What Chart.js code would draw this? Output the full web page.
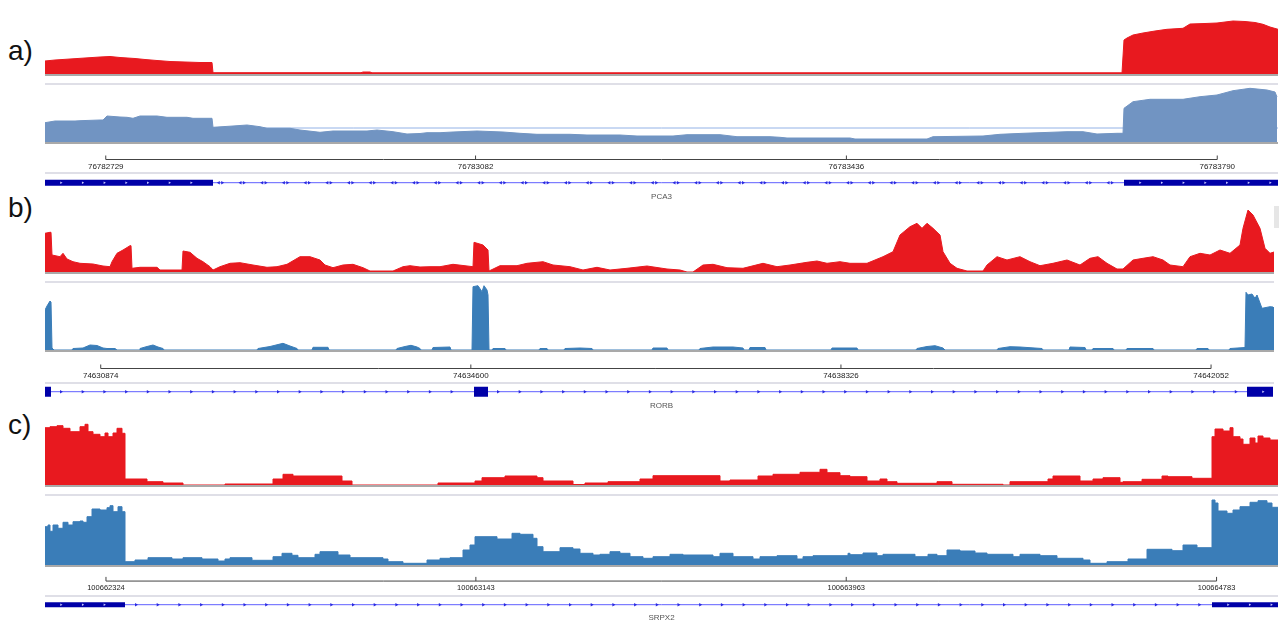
<!DOCTYPE html>
<html>
<head>
<meta charset="utf-8">
<title>Coverage tracks</title>
<script src="https://cdn.jsdelivr.net/npm/chart.js"></script>
<style>
  body { margin: 0; width: 1279px; height: 624px; overflow: hidden; position: relative; background: #fff;
         font-family: 'Liberation Sans', Arial, sans-serif; }
  canvas, .sep, .base, .lbl, .scroll { position: absolute; }
  .lbl { left: 8px; font-size: 28px; line-height: 28px; color: #111; }
  .sep { left: 45px; height: 2px; background: #dfdfe7; }
  .base { left: 45px; height: 2px; background: #a9a9a9; }
  .scroll { left: 1274px; top: 206px; width: 5px; height: 22px; background: #e6e6e6; }
</style>
</head>
<body>
<div class="lbl" style="top:37px">a)</div>
<div class="lbl" style="top:194px">b)</div>
<div class="lbl" style="top:411px">c)</div>
<div class="scroll"></div>
<script>
'use strict';

// #region ***  Data                                     ***********
// coverage: [bin, depth] ; 1233 bins across the view
const nBins = 1233;

// a) PCA3
const aLocus = [76782671, 76783848];
const aRulerTicks = [76782729, 76783082, 76783436, 76783790];
const aExons = [[0, 168], [1079, 1233]];
const aGene = 'PCA3';
const aRed = [[0, 13], [10, 14], [25, 15], [40, 16], [55, 17], [65, 17.5], [75, 16.5], [90, 15.5], [100, 14.5],
  [112, 13.5], [125, 12.5], [140, 12], [155, 11.5], [167, 11.5], [168, 1.3], [316, 1.3], [318, 2], [325, 2],
  [327, 1.2], [1077, 1.2], [1079, 34], [1082, 36], [1088, 39], [1098, 41], [1110, 43], [1122, 44.7], [1138, 45.7],
  [1145, 50], [1160, 50.5], [1172, 51], [1188, 53], [1200, 52.5], [1210, 51.5], [1218, 49.7], [1225, 47], [1233, 44.7]];
const aBlue = [[0, 19.3], [10, 21], [30, 21], [35, 21.3], [55, 22], [58, 22], [62, 26], [75, 25], [82, 24.7],
  [88, 23.7], [95, 26], [112, 26], [122, 24.7], [142, 24.7], [148, 23.7], [167, 23.7], [168, 14.7], [188, 16],
  [202, 17], [215, 15.3], [222, 13.7], [245, 13.7], [255, 12], [275, 9.7], [288, 11], [322, 11], [332, 12],
  [348, 10.3], [362, 8], [375, 8.5], [382, 9.3], [395, 9.3], [408, 10], [432, 11], [458, 10], [475, 8.7],
  [492, 7.7], [525, 7.7], [542, 7], [575, 7], [592, 6], [628, 6], [642, 7.3], [675, 7.3], [692, 5.3], [725, 5.3],
  [735, 4.7], [742, 4], [805, 4], [810, 3], [882, 3], [888, 5.3], [938, 6], [955, 7.7], [978, 8.7], [1000, 9.5],
  [1022, 10.3], [1038, 10.3], [1052, 8], [1072, 8.7], [1078, 8.7], [1079, 33.7], [1088, 40.3], [1105, 42.7],
  [1138, 42.7], [1155, 45.3], [1172, 47], [1188, 51.3], [1205, 53.7], [1222, 52], [1230, 50], [1232, 45]];
const aBlueRef = 14;

// b) RORB
const bLocus = [74630313, 74642726];
const bRulerTicks = [74630874, 74634600, 74638326, 74642052];
const bExons = [[0, 6], [429, 443], [1202, 1228]];
const bGene = 'RORB';
const bRed = [[0, 38.7], [5, 39.7], [6, 39.7], [7, 17], [15, 15.3], [18, 18.7], [22, 13], [28, 10.3], [35, 8.7],
  [48, 8], [58, 6], [65, 5.3], [67, 10.3], [72, 18.7], [78, 22], [85, 26.3], [86, 26.3], [87, 3.7], [95, 4.7],
  [112, 4.7], [115, 2], [137, 2], [138, 21], [145, 19.7], [152, 13.7], [158, 10.3], [165, 5.3], [168, 2],
  [175, 5.3], [185, 8.7], [195, 9.3], [208, 7], [222, 4.7], [232, 5.3], [242, 7.7], [255, 15.3], [265, 15.3],
  [275, 12], [280, 7], [288, 4.3], [298, 7], [308, 7.7], [318, 4.3], [325, 1], [348, 1], [358, 5.3], [365, 6.3],
  [375, 5], [385, 5.3], [395, 5.3], [408, 7.7], [428, 5.3], [429, 29.7], [438, 27], [443, 22], [444, 1],
  [455, 6.3], [472, 6.3], [482, 8.7], [498, 10.3], [508, 7], [525, 5.3], [538, 2], [552, 4.7], [565, 2],
  [582, 3.7], [602, 6], [622, 3], [635, 2], [642, 0], [648, 0], [658, 7], [668, 7.7], [682, 4.3], [698, 3.7],
  [718, 8.7], [732, 5.3], [745, 7], [762, 9.7], [772, 11], [782, 8.7], [795, 10.3], [805, 8.7], [822, 8.7],
  [838, 15.3], [848, 20.3], [855, 37], [865, 45.3], [872, 48.7], [877, 43.7], [882, 48.7], [888, 43.7],
  [895, 37], [898, 20.3], [905, 8.7], [912, 3.7], [922, 1], [938, 1], [942, 7], [952, 15.3], [962, 12],
  [975, 15.3], [985, 10.3], [995, 6.3], [1008, 8.7], [1022, 12], [1035, 7], [1045, 13.7], [1053, 15.3],
  [1062, 8.7], [1072, 3], [1078, 3], [1088, 12], [1098, 13.7], [1108, 15.3], [1118, 12], [1125, 7], [1138, 5.3],
  [1145, 15.3], [1155, 18.7], [1165, 17], [1175, 22], [1185, 18.7], [1195, 27], [1198, 43.7], [1203, 62],
  [1208, 57], [1215, 43.7], [1220, 23.7], [1225, 18.7], [1229, 20]];
const bBlue = [[0, 40], [2, 44], [5, 49], [6, 48], [7, 2], [9, 0], [27, 0], [28, 1.5], [38, 2], [45, 5], [52, 4.5],
  [58, 2], [62, 1.5], [70, 1.5], [72, 0], [94, 0], [95, 1.5], [102, 3.5], [108, 5], [113, 3], [118, 1.5], [119, 0],
  [212, 0], [213, 1.5], [225, 3.5], [238, 6.7], [245, 4], [252, 1.5], [253, 0], [267, 0], [268, 2.7], [283, 2.7],
  [284, 0], [351, 0], [352, 1.5], [360, 3.5], [366, 4.7], [372, 3], [375, 1.5], [376, 0], [387, 0], [388, 2.5],
  [405, 3], [406, 0], [427, 0], [428, 63.3], [433, 64.3], [437, 58.3], [439, 64.3], [442, 60], [443, 55], [444, 0],
  [447, 0], [448, 1.5], [460, 1.5], [461, 0], [494, 0], [495, 1.5], [502, 1.5], [503, 0], [519, 0], [520, 1.5],
  [535, 2], [547, 1.5], [548, 0], [607, 0], [608, 2], [622, 2], [623, 0], [654, 0], [655, 1.5], [668, 3], [688, 3],
  [698, 2], [699, 0], [704, 0], [705, 2.5], [720, 2.5], [721, 0], [786, 0], [787, 2], [812, 2], [813, 0], [871, 0],
  [872, 1.5], [882, 3.5], [890, 4.3], [898, 2], [900, 0], [952, 0], [953, 1.5], [965, 3.3], [975, 3], [997, 1.5],
  [998, 0], [1024, 0], [1025, 3], [1040, 2.5], [1041, 0], [1047, 0], [1048, 1.5], [1068, 1.5], [1069, 0],
  [1081, 0], [1082, 1.5], [1108, 1.5], [1109, 0], [1151, 0], [1152, 1.5], [1163, 1.5], [1164, 0], [1184, 0],
  [1185, 1.5], [1200, 2.5], [1201, 57.7], [1203, 55], [1207, 56], [1210, 51.7], [1212, 55], [1217, 41.7],
  [1225, 43.3], [1228, 43], [1228.5, 0]];

// c) SRPX2 (stepped: depth holds until the next bin)
const cLocus = [100662189, 100664919];
const cRulerTicks = [100662324, 100663143, 100663963, 100664783];
const cExons = [[0, 80], [1167, 1233]];
const cGene = 'SRPX2';
const cRed = [[0, 57.3], [5, 58.3], [12, 59.3], [18, 56.7], [25, 53.3], [35, 58.3], [40, 60.7], [43, 53.3],
  [48, 50.7], [55, 48.3], [60, 52], [63, 48.3], [68, 52], [72, 56.7], [77, 51.7], [80, 6], [102, 3.3], [118, 2],
  [138, 0], [180, 1], [228, 6], [238, 10.7], [248, 9], [297, 4], [307, 0], [393, 2], [430, 4], [437, 7.3],
  [460, 9], [492, 7.3], [498, 4], [528, 0.5], [540, 2], [563, 3.3], [595, 6], [608, 9.3], [675, 4], [685, 5],
  [713, 9], [728, 10.7], [755, 12.7], [775, 15.7], [782, 12.3], [795, 9.3], [805, 8.3], [822, 4], [835, 6],
  [842, 3.3], [852, 1.7], [892, 3.3], [907, 0.7], [958, 0], [965, 3.3], [1003, 6], [1008, 9], [1035, 4],
  [1048, 6], [1058, 7.3], [1075, 2.7], [1078, 3.3], [1097, 5.7], [1117, 9], [1123, 8.3], [1147, 6.7],
  [1167, 48.3], [1170, 56], [1178, 54], [1185, 57.3], [1188, 48.3], [1195, 46], [1198, 40.7], [1205, 47],
  [1210, 42], [1213, 49], [1218, 47], [1225, 45], [1233, 45]];
const cBlue = [[0, 38.3], [3, 40], [5, 33.7], [8, 40], [13, 36.7], [18, 42.7], [23, 40], [28, 43.3], [35, 44],
  [38, 42.7], [42, 48.3], [47, 56], [55, 55], [62, 57.3], [65, 59.3], [68, 53.3], [73, 58.3], [77, 53.3],
  [80, 3.3], [90, 5], [103, 7.3], [127, 6], [138, 7.3], [157, 6], [173, 4], [180, 6], [185, 7.3], [207, 4.7],
  [228, 8.3], [237, 11.7], [247, 9.7], [253, 7.3], [270, 10.7], [275, 13.3], [293, 10], [305, 7.3], [338, 6],
  [343, 3.3], [358, 1.7], [382, 5], [395, 6.7], [405, 7.3], [418, 15], [425, 20], [430, 28.3], [452, 26],
  [467, 31.7], [475, 30.7], [488, 26.7], [492, 18.3], [498, 13.3], [515, 17.3], [528, 16], [535, 11.7],
  [548, 10], [555, 10.7], [565, 13.3], [575, 11.7], [585, 8.3], [598, 6.7], [608, 8.3], [625, 10.7], [638, 10],
  [668, 8.3], [675, 11.7], [688, 8.3], [708, 6], [715, 8.3], [732, 9.3], [752, 6], [758, 8.3], [768, 9.3],
  [803, 11.7], [805, 10.3], [818, 12], [832, 9.3], [838, 10.7], [870, 8.3], [883, 10.7], [892, 9.3], [902, 15],
  [915, 14], [930, 12], [942, 10.7], [968, 8.3], [975, 10.7], [995, 9.3], [1012, 6.7], [1038, 5], [1045, 1.7],
  [1062, 3.3], [1083, 6], [1102, 15.7], [1127, 14.3], [1138, 20], [1152, 17.3], [1167, 65], [1170, 62],
  [1173, 54], [1182, 51.7], [1188, 55], [1195, 58.3], [1205, 62.7], [1213, 64.3], [1222, 62], [1227, 57.7],
  [1233, 57.7]];
// #endregion

// #region ***  Layout / style                           ***********
const trackLeft = 45;
const markStep = 21.7;
const red = '#e8191f';
const blueLight = '#7194c2';
const blue = '#3a7db8';
const exonColour = '#0000a8';
const intronColour = '#5f5fff';
// #endregion

// #region ***  Helpers                                  ***********
const addCanvas = function (left, top, width, height) {
  const c = document.createElement('canvas');
  c.width = width;
  c.height = height;
  c.style.left = left + 'px';
  c.style.top = top + 'px';
  c.style.width = width + 'px';
  c.style.height = height + 'px';
  document.body.appendChild(c);
  return c;
};

const addDiv = function (cls, top, width) {
  const d = document.createElement('div');
  d.className = cls;
  d.style.top = top + 'px';
  d.style.width = width + 'px';
  document.body.appendChild(d);
};

const baseOptions = function () {
  return {
    animation: false,
    responsive: false,
    devicePixelRatio: 1,
    events: [],
    layout: { padding: 0, autoPadding: false },
    plugins: { legend: { display: false }, tooltip: { enabled: false } }
  };
};

const toPoints = (pairs) => pairs.map((p) => ({ x: p[0], y: p[1] }));
// #endregion

// #region ***  Charts                                   ***********
const showCoverage = function (top, range, pairs, colour, stepped, refLevel) {
  const canvas = addCanvas(trackLeft, top, nBins, range);
  const datasets = [{
    data: toPoints(pairs),
    backgroundColor: colour,
    borderColor: colour,
    borderWidth: 1,
    borderJoinStyle: 'bevel',
    fill: 'origin',
    pointRadius: 0,
    stepped: stepped
  }];
  if (refLevel !== undefined) {
    datasets.push({
      data: [{ x: 0, y: refLevel }, { x: nBins, y: refLevel }],
      borderColor: '#93b2e6', borderWidth: 1, pointRadius: 0, fill: false
    });
  }
  const options = baseOptions();
  options.scales = {
    x: { type: 'linear', display: false, min: 0, max: nBins },
    y: { display: false, min: 0, max: range }
  };
  new Chart(canvas, { type: 'line', data: { datasets }, options });
};

// ruler: 26px canvas, 13px axis box under a 13px plot strip (line sits 0.5px above its bottom)
const showRuler = function (top, locus, ticks, fontSize) {
  const canvas = addCanvas(trackLeft, top, nBins, 26);
  const stroke = { borderColor: '#444', borderWidth: 1, pointRadius: 0, fill: false, clip: false };
  const datasets = [{ ...stroke, data: [{ x: ticks[0], y: 0 }, { x: ticks[ticks.length - 1], y: 0 }] }];
  ticks.forEach((t) => datasets.push({ ...stroke, data: [{ x: t, y: 0 }, { x: t, y: 4 }] }));
  const options = baseOptions();
  options.scales = {
    x: {
      type: 'linear', min: locus[0], max: locus[1],
      afterBuildTicks: (scale) => { scale.ticks = ticks.map((v) => ({ value: v })); },
      grid: { display: false, drawTicks: false },
      border: { display: false },
      ticks: {
        padding: 1.7, color: '#222', maxRotation: 0, autoSkip: false,
        font: { family: 'Liberation Sans', size: fontSize },
        callback: (v) => String(v)
      }
    },
    y: { display: false, min: -0.5, max: 12.5 }
  };
  new Chart(canvas, { type: 'line', data: { datasets }, options });
};

const strandMarks = function (segments, offset) {
  const marks = [];
  segments.forEach(([s, e]) => {
    for (let x = s + offset; x < e - 3; x += markStep) marks.push({ x, y: 0 });
  });
  return marks;
};

const showGene = function (top, height, exons, name, exonHeight, titlePad, intronOffset, bothWays) {
  const canvas = addCanvas(trackLeft, top, nBins, height);
  const introns = [];
  for (let i = 1; i < exons.length; i++) introns.push([exons[i - 1][1], exons[i][0]]);
  const intronMarks = strandMarks(introns, intronOffset);
  const markStyle = { showLine: false, pointStyle: 'triangle', pointRadius: 2, pointBorderWidth: 0 };
  const datasets = [];
  datasets.push({ ...markStyle, data: strandMarks(exons, 16), pointRadius: 1.5,
    pointRotation: 90, pointBackgroundColor: '#c9c9ff' });
  if (bothWays) {
    datasets.push({ ...markStyle, data: intronMarks.map((m) => ({ x: m.x + 1.7, y: 0 })),
      pointRotation: 90, pointBackgroundColor: '#2a2ae0' });
    datasets.push({ ...markStyle, data: intronMarks.map((m) => ({ x: m.x - 1.7, y: 0 })),
      pointRotation: -90, pointBackgroundColor: '#2a2ae0' });
  } else {
    datasets.push({ ...markStyle, data: intronMarks, pointRotation: 90, pointBackgroundColor: '#2a2ae0' });
  }
  exons.forEach(([s, e]) => datasets.push({
    data: [{ x: s, y: 0 }, { x: e, y: 0 }], borderColor: exonColour, borderWidth: exonHeight,
    borderCapStyle: 'butt', pointRadius: 0, fill: false
  }));
  datasets.push({
    data: [{ x: exons[0][0], y: 0 }, { x: exons[exons.length - 1][1], y: 0 }],
    borderColor: intronColour, borderWidth: 1, pointRadius: 0, fill: false
  });
  const options = baseOptions();
  options.plugins.title = {
    display: true, text: name, position: 'bottom', color: '#555',
    font: { family: 'Liberation Sans', size: 8, weight: 'normal' },
    padding: { top: titlePad, bottom: 0 }
  };
  options.scales = {
    x: { type: 'linear', display: false, min: 0, max: nBins },
    y: { display: false, min: -1, max: 1 }
  };
  new Chart(canvas, { type: 'line', data: { datasets }, options });
};
// #endregion

// #region ***  Init                                     ***********
const init = function () {
  // a)
  showCoverage(17, 57, aRed, red, false);
  addDiv('base', 74, nBins);
  addDiv('sep', 83, nBins);
  showCoverage(86, 56, aBlue, blueLight, false, aBlueRef);
  addDiv('base', 142, nBins);
  showRuler(147, aLocus, aRulerTicks, 8);
  addDiv('sep', 172, nBins);
  showGene(174, 28, aExons, aGene, 6, 1, 7.5, true);

  // b)
  showCoverage(205, 67, bRed, red, false);
  addDiv('base', 272, 1229);
  addDiv('sep', 281, 1229);
  showCoverage(284, 66, bBlue, blue, false);
  addDiv('base', 350, 1229);
  showRuler(356, bLocus, bRulerTicks, 8);
  addDiv('sep', 382, 1229);
  showGene(384, 27, bExons, bGene, 10, 2, 10, false);

  // c)
  showCoverage(420, 65, cRed, red, true);
  addDiv('base', 485, nBins);
  addDiv('sep', 494, nBins);
  showCoverage(497, 68, cBlue, blue, true);
  addDiv('base', 565, nBins);
  showRuler(568, cLocus, cRulerTicks, 7.5);
  addDiv('sep', 595, nBins);
  showGene(597, 26, cExons, cGene, 5, 1, 11, false);
};

document.addEventListener('DOMContentLoaded', init);
// #endregion
</script>
</body>
</html>
